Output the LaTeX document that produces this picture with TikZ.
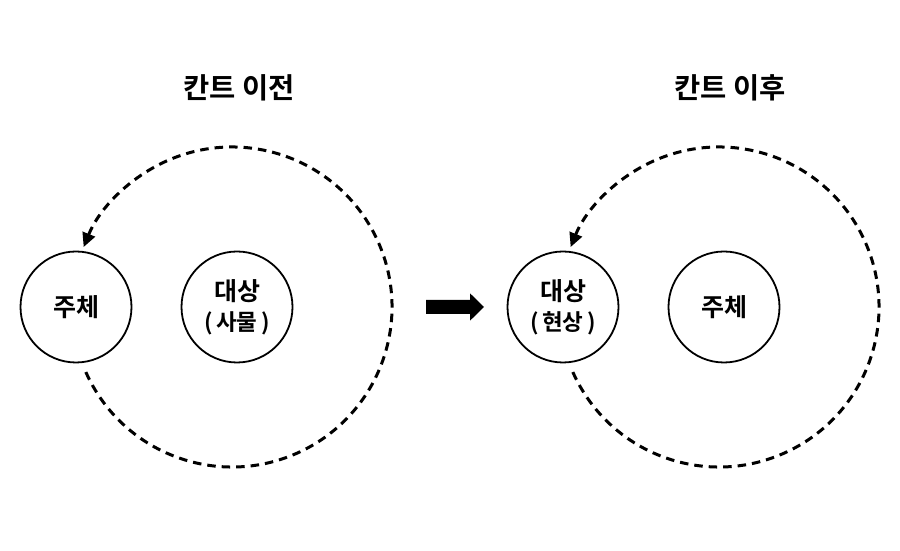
\documentclass[tikz,border=0pt]{standalone}
\usepackage{fontspec}
\setmainfont{Noto Sans CJK KR}[BoldFont={* Bold}]
\usetikzlibrary{arrows.meta,calc}
\begin{document}
\begin{tikzpicture}[x=1pt,y=1pt,
  smallc/.style={circle,draw=black,line width=1.8pt,minimum size=111pt,inner sep=0pt,align=center,font=\bfseries\fontsize{25}{30}\selectfont},
  titletext/.style={font=\bfseries\fontsize{28.5}{32}\selectfont},
  orbit/.style={line width=3pt,dash pattern=on 8.5pt off 6pt,-{Triangle[length=14pt,width=13pt]}}]
\useasboundingbox (0,0) rectangle (900,551);
% left
\node[titletext] (t1) at (239,463) {칸트 이전};
\node[smallc] (s1) at (76,244) {주체};
\node[smallc] (o1) at (237,244) {대상\\[0pt]{\fontsize{22.5}{26}\selectfont (\,사물\,)}};
\coordinate (a1) at ($(232,244)+(204:160)$);
% right
\node[titletext] (t2) at (730,463) {칸트 이후};
\node[smallc] (o2) at (563,244) {대상\\[0pt]{\fontsize{22.5}{26}\selectfont (\,현상\,)}};
\node[smallc] (s2) at (724,244) {주체};
\coordinate (a2) at ($(719,244)+(204:160)$);
% orbits
\draw[orbit] (a1) arc[start angle=204,end angle=518,radius=160];
\draw[orbit] (a2) arc[start angle=204,end angle=518,radius=160];
% block arrow
\fill[black] (426,237) -- (470,237) -- (470,230.3) -- (484,244) -- (470,257.7) -- (470,251) -- (426,251) -- cycle;
\end{tikzpicture}
\end{document}
